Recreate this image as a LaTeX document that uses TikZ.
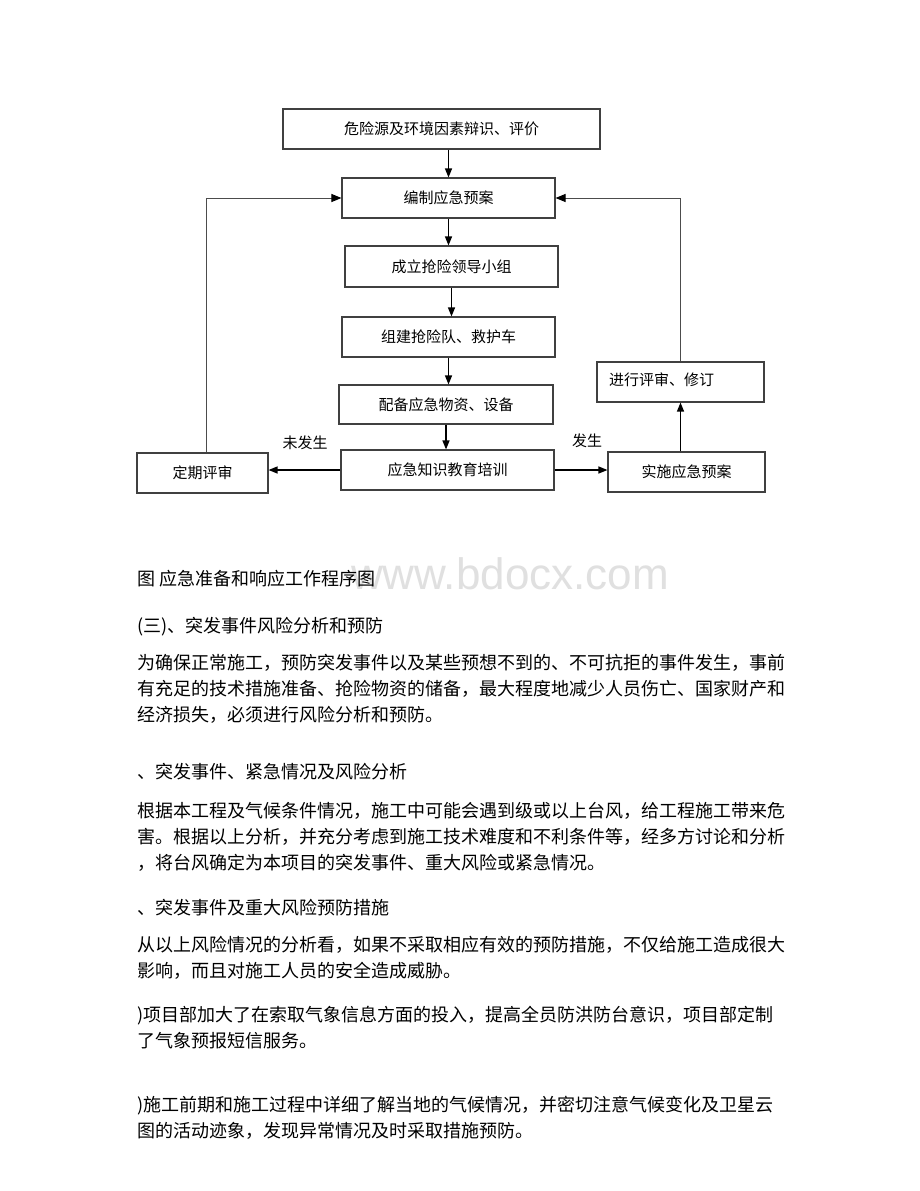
\documentclass[tikz,border=0pt]{standalone}
\usepackage{fontspec}
\setmainfont{Noto Sans CJK SC}
\newfontfamily\markfont{Liberation Sans}
\usetikzlibrary{arrows.meta}

\begin{document}
\begin{tikzpicture}[x=1pt,y=-1pt,
  box/.style={draw=black!75,line width=1.1pt,minimum height=40pt,inner sep=0pt,font=\fontsize{15}{15}\selectfont},
  flow/.style={-{Triangle[length=9pt,width=7pt]},line width=1.3pt},
  backline/.style={draw=black!70,line width=1pt,-{Triangle[length=10pt,width=8pt,color=black]}},
  lbl/.style={font=\fontsize{15}{15}\selectfont},
  para/.style={anchor=base west,align=left,inner sep=0pt,font=\fontsize{18}{26}\selectfont},
  wm/.style={text=black!12,font=\markfont\fontsize{44}{44}\selectfont}]
\useasboundingbox[fill=white] (0,0) rectangle (920,1191);

\node[wm] (mark) at (510,574) {www.bdocx.com};

\node[box,minimum width=317pt] (hazard) at (441.5,129) {危险源及环境因素辩识、评价};
\node[box,minimum width=213pt] (plan) at (448.5,198) {编制应急预案};
\node[box,minimum width=213pt,minimum height=41pt] (team) at (451.5,266.5) {成立抢险领导小组};
\node[box,minimum width=213pt] (squad) at (448.5,337) {组建抢险队、救护车};
\node[box,minimum width=214pt,minimum height=39pt] (supply) at (446,404.5) {配备应急物资、设备};
\node[box,minimum width=213pt] (train) at (447.5,470) {应急知识教育培训};
\node[box,minimum width=131pt] (review) at (202.5,473) {定期评审};
\node[box,minimum width=157pt] (act) at (686.5,472) {实施应急预案};
\node[box,minimum width=167pt,align=left,text width=143pt] (revise) at (680.5,382) {\raisebox{5pt}{进行评审、修订}};

\node[lbl] (notocc) at (305,443) {未发生};
\node[lbl] (occ) at (587,441) {发生};

\draw[flow] (hazard.south -| plan.north) -- (plan.north);
\draw[flow] (plan.south) -- (plan.south |- team.north);
\draw[flow] (team.south) -- (team.south |- squad.north);
\draw[flow] (squad.south) -- (squad.south |- supply.north);
\draw[flow] (supply.south) -- (supply.south |- train.north);
\draw[flow] (train.west) -- (train.west -| review.east);
\draw[flow] (train.east) -- (train.east -| act.west);
\draw[flow] (revise.south |- act.north) -- (revise.south);
\draw[backline] ([xshift=4pt]review.north) |- (plan.west);
\draw[backline] (revise.north) |- (plan.east);

\node[para] (caption) at (137,585) {图 应急准备和响应工作程序图};
\node[para] (sec) at (137,632) {(三)、突发事件风险分析和预防};
\node[para] (intro) at (137,721) {为确保正常施工，预防突发事件以及某些预想不到的、不可抗拒的事件发生，事前\\有充足的技术措施准备、抢险物资的储备，最大程度地减少人员伤亡、国家财产和\\经济损失，必须进行风险分析和预防。};
\node[para] (subA) at (137,778) {、突发事件、紧急情况及风险分析};
\node[para] (textA) at (137,869) {根据本工程及气候条件情况，施工中可能会遇到级或以上台风，给工程施工带来危\\害。根据以上分析，并充分考虑到施工技术难度和不利条件等，经多方讨论和分析\\，将台风确定为本项目的突发事件、重大风险或紧急情况。};
\node[para] (subB) at (137,914) {、突发事件及重大风险预防措施};
\node[para] (textB) at (137,977) {从以上风险情况的分析看，如果不采取相应有效的预防措施，不仅给施工造成很大\\影响，而且对施工人员的安全造成威胁。};
\node[para] (itemA) at (137,1047) {)项目部加大了在索取气象信息方面的投入，提高全员防洪防台意识，项目部定制\\了气象预报短信服务。};
\node[para] (itemB) at (137,1137) {)施工前期和施工过程中详细了解当地的气候情况，并密切注意气候变化及卫星云\\图的活动迹象，发现异常情况及时采取措施预防。};
\end{tikzpicture}
\end{document}
